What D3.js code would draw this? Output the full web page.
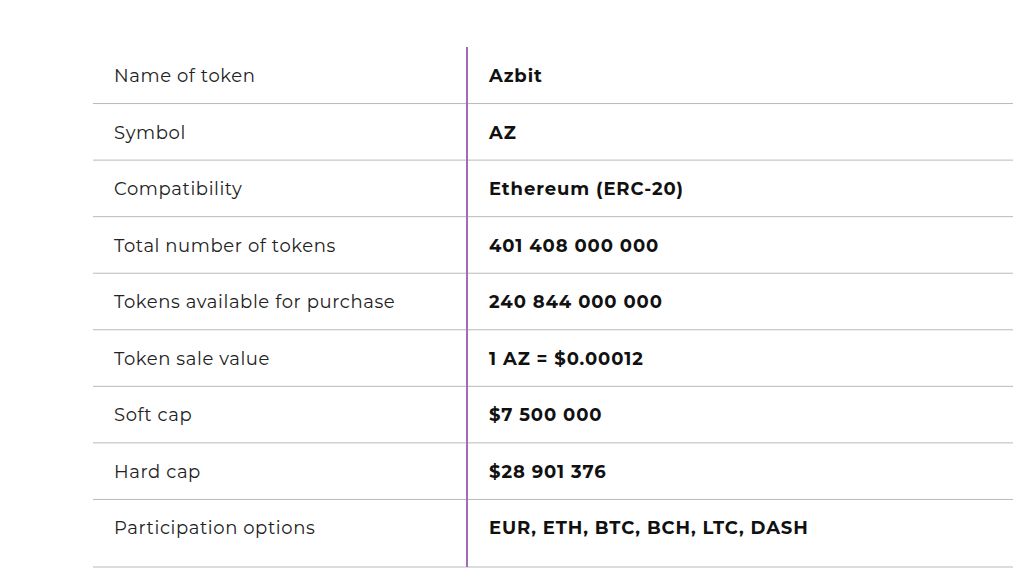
<!DOCTYPE html>
<html><head><meta charset="utf-8">
<script src="https://cdn.jsdelivr.net/npm/d3@7"></script>
<style>body{margin:0;background:#fff}</style></head>
<body><svg id="c" width="1034" height="570"></svg>
<script>
const labels = ["Name of token","Symbol","Compatibility","Total number of tokens","Tokens available for purchase","Token sale value","Soft cap","Hard cap","Participation options"];
const values = ["Azbit","AZ","Ethereum (ERC-20)","401 408 000 000","240 844 000 000","1 AZ = $0.00012","$7 500 000","$28 901 376","EUR, ETH, BTC, BCH, LTC, DASH"];
const svg = d3.select("#c");
const y = d3.scaleBand().domain(labels).range([47, 556]);
const font = "'Montserrat','Lato','Open Sans',sans-serif";
const rows = svg.selectAll("g.row").data(labels).join("g").attr("transform", d => `translate(0,${y(d)})`);
rows.append("line").attr("x1", 93).attr("x2", 1013)
  .attr("y1", (d,i) => i === labels.length-1 ? 567 - y(d) : y.bandwidth())
  .attr("y2", (d,i) => i === labels.length-1 ? 567 - y(d) : y.bandwidth())
  .attr("stroke", "#b9b9b9").attr("stroke-width", 1);
rows.append("text").attr("x", 114).attr("y", 35).text(d => d)
  .attr("font-family", font).attr("font-size", 18).attr("fill", "#222").attr("letter-spacing", 0.6);
rows.append("text").attr("x", 489).attr("y", 35).text((d,i) => values[i])
  .attr("font-family", font).attr("font-size", 18).attr("font-weight", "bold").attr("fill", "#111").attr("letter-spacing", 0.9);
svg.append("line").attr("x1", 467).attr("x2", 467).attr("y1", 47).attr("y2", 567)
  .attr("stroke", "#a36bb5").attr("stroke-width", 2);
</script></body></html>
